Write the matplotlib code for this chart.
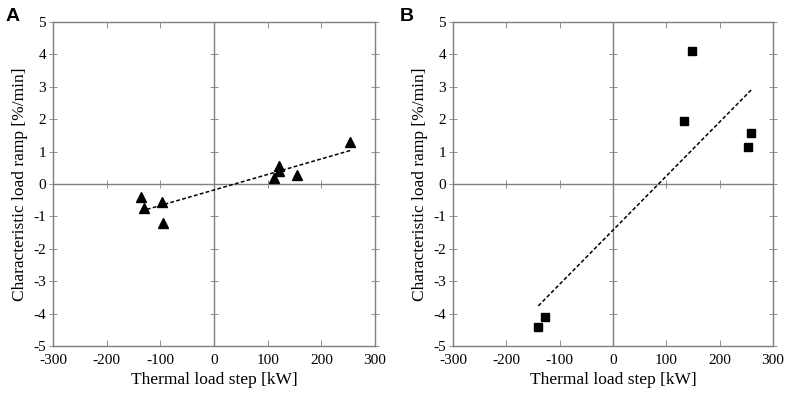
import matplotlib.pyplot as plt
import numpy as np

# panel A (triangles)
step_a = [-136, -131, -96, -95, 112, 122, 122, 155, 254]
ramp_a = [-0.39, -0.75, -0.55, -1.21, 0.18, 0.55, 0.41, 0.28, 1.30]

# panel B (squares)
step_b = [148, 134, 259, 254, -127, -140]
ramp_b = [4.10, 1.95, 1.58, 1.15, -4.10, -4.41]

xticks = [-300, -200, -100, 0, 100, 200, 300]
yticks = [-5, -4, -3, -2, -1, 0, 1, 2, 3, 4, 5]

plt.rcParams['font.family'] = ['Liberation Serif', 'DejaVu Serif']
plt.rcParams['axes.unicode_minus'] = False
grey = "#7f7f7f"

fig = plt.figure(figsize=(7.89, 3.94), dpi=100)
ax_a = fig.add_axes([0.0672, 0.1218, 0.4081, 0.8223])
ax_b = fig.add_axes([0.5741, 0.1218, 0.4056, 0.8223])


def draw_panel(ax, x, y, marker, ms, letter, letter_x):
    ax.plot(x, y, linestyle="none", marker=marker, color="black", markersize=ms, zorder=4)

    # least squares trend line
    k, b = np.polyfit(x, y, 1)
    xs = np.array([min(x), max(x)])
    ax.plot(xs, k * xs + b, color="black", linestyle=(0, (2.5, 1.5)), linewidth=1.1, zorder=3)

    # axes through the origin with small crossing ticks
    ax.axhline(0, color=grey, linewidth=1.0, zorder=1)
    ax.axvline(0, color=grey, linewidth=1.0, zorder=1)
    ax.plot(xticks, [0] * len(xticks), linestyle="none", marker="|", markersize=6,
            markeredgewidth=0.6, color=grey, zorder=1)
    ax.plot([0] * len(yticks), yticks, linestyle="none", marker="_", markersize=6,
            markeredgewidth=0.6, color=grey, zorder=1)

    ax.set_xlim(-300, 300)
    ax.set_ylim(-5, 5)
    ax.set_xticks(xticks)
    ax.set_yticks(yticks)
    ax.tick_params(axis="y", direction="inout", length=6, width=0.6, color=grey,
                   right=True, labelsize=11, pad=2)
    ax.tick_params(axis="x", direction="in", length=4, width=0.6, color=grey,
                   top=True, labelsize=11, pad=6)
    for s in ax.spines.values():
        s.set_color(grey)
        s.set_linewidth(1.0)

    ax.set_xlabel("Thermal load step [kW]", fontsize=12.5, labelpad=3)
    ax.set_ylabel("Characteristic load ramp [%/min]", fontsize=12.5, labelpad=4)
    ax.text(letter_x, 1.018, letter, transform=ax.transAxes, fontsize=14, fontweight="bold",
            family="Liberation Sans", ha="left", va="center")


draw_panel(ax_a, step_a, ramp_a, "^", 6.5, "A", -0.149)
draw_panel(ax_b, step_b, ramp_b, "s", 5.5, "B", -0.166)

fig.savefig("out.png", dpi=100)
